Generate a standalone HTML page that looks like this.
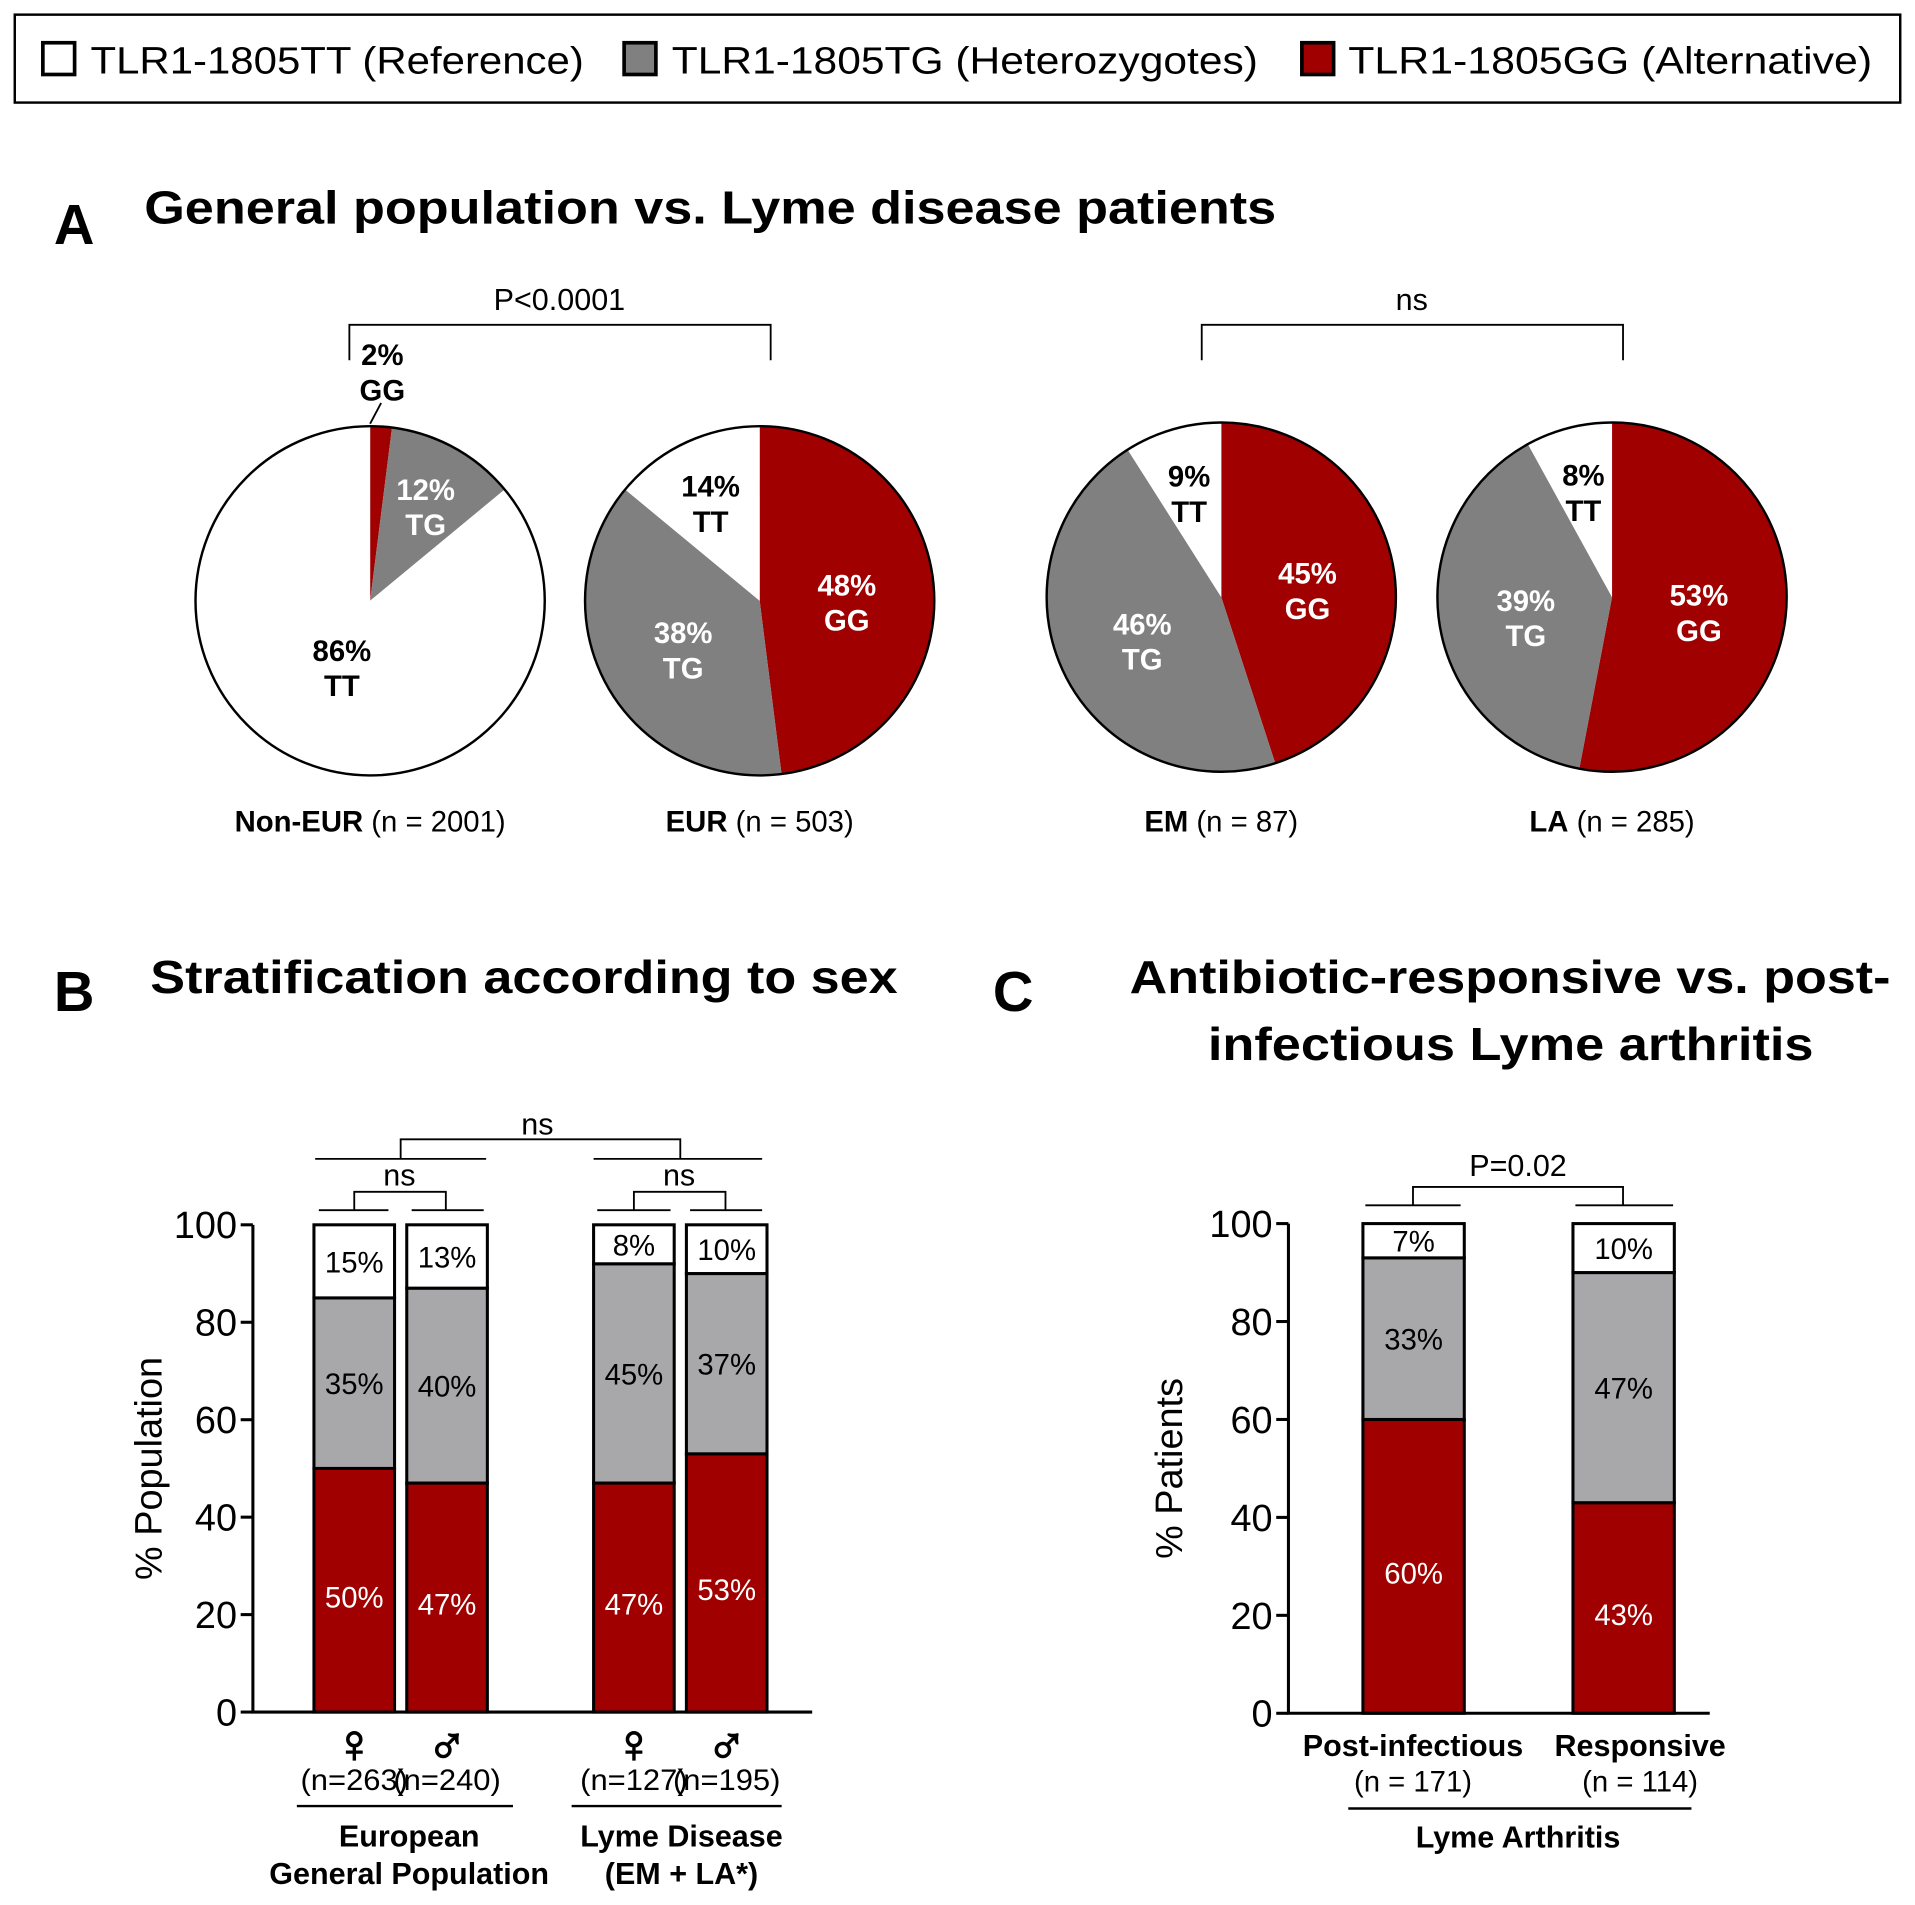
<!DOCTYPE html>
<html><head><meta charset="utf-8"><style>
html,body{margin:0;padding:0;background:#fff}
svg{display:block;font-family:"Liberation Sans",Arial,sans-serif}
</style></head><body>
<svg id="fig" width="1915" height="1905" viewBox="0 0 1568 1560" xmlns="http://www.w3.org/2000/svg">
<g>
<rect x="12" y="12" width="1544" height="72" fill="none" stroke="#000" stroke-width="2"/>
<rect x="35" y="35" width="26" height="26" fill="#fff" stroke="#000" stroke-width="3"/>
<text x="74" y="60" font-size="31" textLength="404" lengthAdjust="spacingAndGlyphs">TLR1-1805TT (Reference)</text>
<rect x="511" y="35" width="26" height="26" fill="#808080" stroke="#000" stroke-width="3"/>
<text x="550" y="60" font-size="31" textLength="480" lengthAdjust="spacingAndGlyphs">TLR1-1805TG (Heterozygotes)</text>
<rect x="1066" y="35" width="26" height="26" fill="#a00000" stroke="#000" stroke-width="3"/>
<text x="1104" y="60" font-size="31" textLength="429" lengthAdjust="spacingAndGlyphs">TLR1-1805GG (Alternative)</text>
</g>
<text x="44" y="200" font-size="46" font-weight="bold">A</text>
<text x="118" y="183" font-size="38" font-weight="bold" textLength="927" lengthAdjust="spacingAndGlyphs">General population vs. Lyme disease patients</text>
<text x="44" y="828" font-size="46" font-weight="bold">B</text>
<text x="123" y="813" font-size="38" font-weight="bold" textLength="612" lengthAdjust="spacingAndGlyphs">Stratification according to sex</text>
<text x="813" y="828" font-size="46" font-weight="bold">C</text>
<text x="925" y="813" font-size="38" font-weight="bold" textLength="623" lengthAdjust="spacingAndGlyphs">Antibiotic-responsive vs. post-</text>
<text x="989" y="868" font-size="38" font-weight="bold" textLength="496" lengthAdjust="spacingAndGlyphs">infectious Lyme arthritis</text>
<g fill="none" stroke="#000" stroke-width="1.5">
<path d="M286 295V266H631V295"/><path d="M984 295V266H1329V295"/>
<path d="M258 949H398M328 949V933H557V949M486 949H624"/>
<path d="M261 991H318M290 991V976H365V991M337 991H396"/>
<path d="M489 991H549M519 991V976H594V991M565 991H624"/>
<path d="M1118 987H1196M1157 987V972H1329V987M1290 987H1370"/>
<path d="M303 347L312 330"/>
</g>
<g font-size="25" text-anchor="middle">
<text x="458" y="254">P&lt;0.0001</text><text x="1156" y="254">ns</text>
<text x="440" y="929">ns</text><text x="327" y="971">ns</text><text x="556" y="971">ns</text>
<text x="1243" y="963">P=0.02</text>
</g>
<g id="pies"></g>
<g id="chartB"></g>
<g id="chartC"></g>
</svg>
<script>
const NS="http://www.w3.org/2000/svg";
function el(p,t,a){const e=document.createElementNS(NS,t);for(const k in a)e.setAttribute(k,a[k]);p.appendChild(e);return e;}
const COL={GG:"#a00000",TG:"#808080",TT:"#ffffff"};
// Pie data (clockwise from top: GG, TG, TT)
const pieNames=["Non-EUR","EUR","EM","LA"];
const pieN=["2001","503","87","285"];
const pieGG=[2,48,45,53];
const pieTG=[12,38,46,39];
const pieTT=[86,14,9,8];
const pieCx=[303,622,1000,1320];
const pieCy=[492,492,489,489];
const R=143;
const pies=document.getElementById("pies");
pieNames.forEach((nm,i)=>{
  const g=el(pies,"g",{});
  
  
  const vals=[["GG",pieGG[i]],["TG",pieTG[i]],["TT",pieTT[i]]];
  const tot=pieGG[i]+pieTG[i]+pieTT[i];
  let a0=0;const cx=pieCx[i],cy=pieCy[i];
  vals.forEach(([k,v])=>{
    const a1=a0+v/tot*2*Math.PI;
    const x0=cx+R*Math.sin(a0),y0=cy-R*Math.cos(a0),x1=cx+R*Math.sin(a1),y1=cy-R*Math.cos(a1);
    const p=el(g,"path",{d:`M${cx} ${cy}L${x0} ${y0}A${R} ${R} 0 ${a1-a0>Math.PI?1:0} 1 ${x1} ${y1}Z`,fill:COL[k],stroke:"none"});
    
    
    const am=(a0+a1)/2;let rr=v<20?R*0.66:(v>60?R*0.38:R*0.5);
    let lx=cx+rr*Math.sin(am),ly=cy-rr*Math.cos(am);
    if(v<4){lx=cx+10;ly=cy-R-50;}
    const fill=(k==="TT")?"#000":"#fff";const f2=(v<4)?"#000":fill;
    const t=el(g,"text",{x:lx,y:ly,"font-size":24,"font-weight":"bold","text-anchor":"middle",fill:f2});
    t.textContent=v+"%";
    const t2=el(g,"text",{x:lx,y:ly+29,"font-size":24,"font-weight":"bold","text-anchor":"middle",fill:f2});
    t2.textContent=k;
    a0=a1;
  });
  el(g,"circle",{cx:cx,cy:cy,r:R,fill:"none",stroke:"#000","stroke-width":2});
  const lb=el(g,"text",{x:cx,y:681,"font-size":24,"text-anchor":"middle"});
  lb.innerHTML='<tspan font-weight="bold">'+nm+'</tspan> (n = '+pieN[i]+')';
});
// Chart B data
const bGG=[50,47,47,53], bTG=[35,40,45,37], bTT=[15,13,8,10];
const bN=["263","240","127","195"], bSex=["♀","♂","♀","♂"];
// Chart C data
const cGG=[60,43], cTG=[33,47], cTT=[7,10];
const cN=["171","114"], cCat=["Post-infectious","Responsive"];
const yTicks=[0,20,40,60,80,100];
function chart(gid,ax,y0,y100,xEnd,bx,bw,GG,TG,TT,ytitle,ytx){
  const g=document.getElementById(gid);
  
  
  const ys=v=>y0-(y0-y100)*v/100;
  GG.forEach((gv,i)=>{
    const segs=[["GG",0,gv],["TG",gv,gv+TG[i]],["TT",gv+TG[i],gv+TG[i]+TT[i]]];
    segs.forEach(([k,a,b])=>{
      const r=el(g,"rect",{x:bx[i],y:ys(b),width:bw,height:ys(a)-ys(b),fill:k==="TG"?"#a8a8ab":COL[k],stroke:"#000","stroke-width":2.5});
      
      
      const v=b-a;const t=el(g,"text",{x:bx[i]+bw/2,y:ys((a+b)/2)+(k==="GG"?14:9),"font-size":24,"text-anchor":"middle",fill:k==="GG"?"#fff":"#000"});
      t.textContent=v+"%";
    });
  });
  el(g,"path",{d:`M${ax} ${y100}V${y0}H${xEnd}`,fill:"none",stroke:"#000","stroke-width":2.5});
  yTicks.forEach(v=>{
    el(g,"path",{d:`M${ax-10} ${ys(v)}H${ax}`,stroke:"#000","stroke-width":2.5});
    const t=el(g,"text",{x:ax-13,y:ys(v)+11,"font-size":31,"text-anchor":"end"});t.textContent=v;
  });
  const yt=el(g,"text",{x:ytx,y:(y0+y100)/2,"font-size":31,"text-anchor":"middle",transform:`rotate(-90 ${ytx} ${(y0+y100)/2})`});
  yt.textContent=ytitle;
  return g;
}
const gB=chart("chartB",207,1402,1003,665,[257,333,486,562],66,bGG,bTG,bTT,"% Population",132);
bN.forEach((n,i)=>{
  const cx=[290,366,519,595][i];
  const s=el(gB,"text",{x:cx,y:1443,"font-size":44,"font-weight":"bold","text-anchor":"middle",stroke:"#000","stroke-width":1.2});s.textContent=bSex[i];
  const t=el(gB,"text",{x:cx,y:1466,"font-size":24,"text-anchor":"middle",textLength:"88",lengthAdjust:"spacingAndGlyphs"});t.textContent="(n="+n+")";
});
el(gB,"path",{d:"M243 1479H420M468 1479H640",stroke:"#000","stroke-width":2});
[["European",335,1512],["General Population",335,1543],["Lyme Disease",558,1512],["(EM + LA*)",558,1543]].forEach(([s,x,y])=>{
  const t=el(gB,"text",{x:x,y:y,"font-size":25,"font-weight":"bold","text-anchor":"middle"});t.textContent=s;});
const gC=chart("chartC",1055,1403,1002,1400,[1116,1288],83,cGG,cTG,cTT,"% Patients",968);
cCat.forEach((c,i)=>{
  const cx=[1157,1343][i];
  const t=el(gC,"text",{x:cx,y:1438,"font-size":25,"font-weight":"bold","text-anchor":"middle"});t.textContent=c;
  const t2=el(gC,"text",{x:cx,y:1467,"font-size":24,"text-anchor":"middle"});t2.textContent="(n = "+cN[i]+")";
});
el(gC,"path",{d:"M1104 1481H1385",stroke:"#000","stroke-width":2});
const la=el(gC,"text",{x:1243,y:1513,"font-size":25,"font-weight":"bold","text-anchor":"middle"});la.textContent="Lyme Arthritis";
</script>
</body></html>
